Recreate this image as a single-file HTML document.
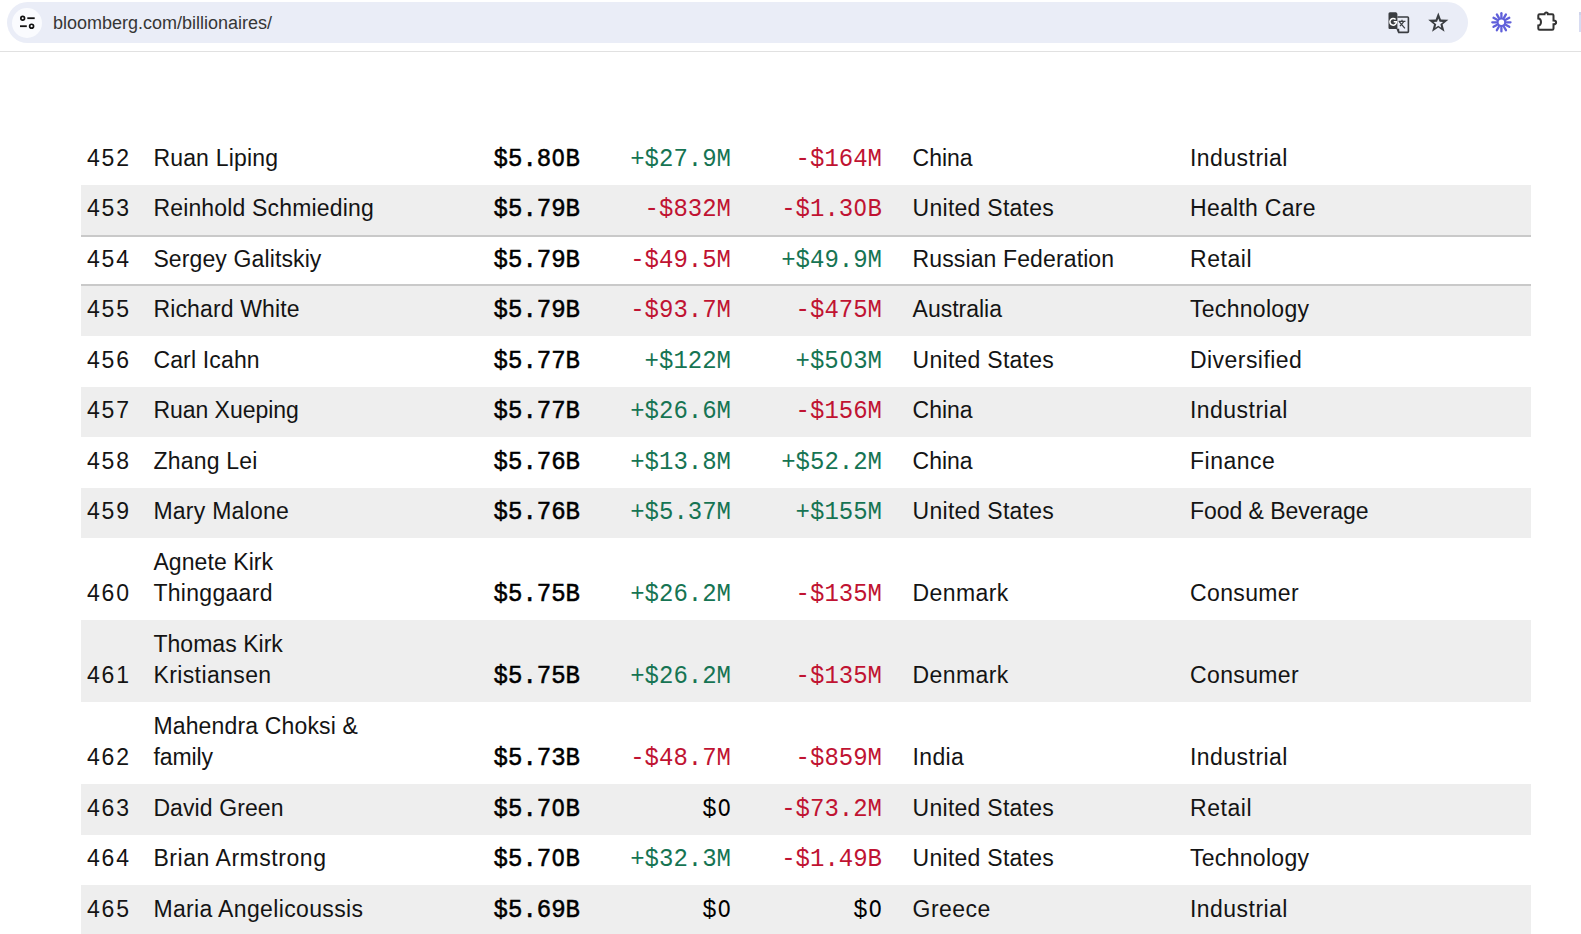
<!DOCTYPE html>
<html><head><meta charset="utf-8"><title>Billionaires</title>
<style>
*{margin:0;padding:0;box-sizing:border-box}
html,body{width:1581px;height:934px;overflow:hidden;background:#fff}
body{position:relative;font-family:"Liberation Sans",sans-serif;color:#000}
.pill{position:absolute;left:7px;top:1.5px;width:1461px;height:41px;border-radius:20.5px;background:#eaedf7}
.circ{position:absolute;left:12px;top:7.5px;width:30px;height:30px;border-radius:50%;background:#fafbfe}
.url{position:absolute;left:53px;top:11.5px;font-size:18px;line-height:22px;color:#363636;white-space:nowrap}
.sep{position:absolute;left:0;top:51px;width:1581px;height:1px;background:#e1e1e1}
.band{position:absolute;left:81px;width:1450px;background:#eeeeee}
.bline{position:absolute;left:81px;width:1450px;height:2px;background:#c9c9c9}
.t{position:absolute;font-size:23px;line-height:31px;white-space:nowrap;color:#141414;letter-spacing:0.2px}
.m{position:absolute;font-family:"Liberation Mono",monospace;font-size:24px;line-height:31px;white-space:nowrap;text-align:right;transform:scaleY(1.06);transform-origin:0 23px}
.rank{left:87px;letter-spacing:1.8px}
.name{left:153.4px}
.nw{-webkit-text-stroke:0.5px #000;right:calc(1581px - 580px)}
.last{right:calc(1581px - 731px)}
.ytd{right:calc(1581px - 882px)}
.country{left:912.6px}
.ind{left:1190px}
.z{display:inline-block;transform:scaleX(0.9)}
.g{color:#167453}
.r{color:#c01332}
.k{color:#000}
</style></head>
<body>
<div class="pill"></div>
<div class="circ"></div>
<div class="url">bloomberg.com/billionaires/</div>

<svg style="position:absolute;left:10px;top:6px" width="34" height="34" viewBox="10 6 34 34">
 <circle cx="22.7" cy="18.2" r="1.85" fill="none" stroke="#111" stroke-width="1.7"/>
 <line x1="27.3" y1="18.2" x2="34.7" y2="18.2" stroke="#111" stroke-width="1.8"/>
 <line x1="20" y1="26.2" x2="26.8" y2="26.2" stroke="#111" stroke-width="1.8"/>
 <circle cx="31.6" cy="26.2" r="1.95" fill="none" stroke="#111" stroke-width="1.7"/>
</svg>
<svg style="position:absolute;left:1380px;top:0px" width="40" height="45" viewBox="1380 0 40 45">
 <path d="M1389.6 12.2 h6.6 l1.2 1.6 v15.2 h-7.8 a1.1 1.1 0 0 1 -1.1 -1.1 v-14.2 a1.1 1.1 0 0 1 1.1 -1.1z" fill="#3a3d41"/>
 <path d="M1397.4 17.0 h10.2 a0.8 0.8 0 0 1 0.8 0.8 v13.8 a0.8 0.8 0 0 1 -0.8 0.8 h-9.5" fill="none" stroke="#3a3d41" stroke-width="1.6"/>
 <path d="M1396.4 28.8 h2.8 l0.2 3.8 h-1.6z" fill="#3a3d41"/>
 <path d="M1395.6 19.6 a3.3 3.3 0 1 0 0.9 2.2 h-2.8" fill="none" stroke="#fff" stroke-width="1.5"/>
 <path d="M1398.6 21.4 h6.8 M1402.0 19.8 v1.6 M1399.4 21.8 L1404.9 28.4 M1403.6 21.8 L1400.0 26.2" stroke="#3a3d41" stroke-width="1.2" fill="none"/>
</svg>
<svg style="position:absolute;left:1420px;top:4px" width="36" height="36" viewBox="1420 4 36 36" ><path fill="#3a3d41" fill-rule="evenodd" d="M1438.30,12.50 L1440.95,19.46 L1448.38,19.82 L1442.58,24.49 L1444.53,31.68 L1438.30,27.60 L1432.07,31.68 L1434.02,24.49 L1428.22,19.82 L1435.65,19.46Z M1438.30,18.60 L1439.59,21.82 L1443.06,22.05 L1440.39,24.28 L1441.24,27.65 L1438.30,25.80 L1435.36,27.65 L1436.21,24.28 L1433.54,22.05 L1437.01,21.82Z"/></svg>
<svg style="position:absolute;left:1488px;top:9px" width="27" height="27" viewBox="1488 9 27 27" ><g stroke="#6060da" stroke-width="2.3" stroke-linecap="round"><line x1="1506.80" y1="22.30" x2="1510.50" y2="22.30"/><line x1="1506.08" y1="25.00" x2="1509.28" y2="26.85"/><line x1="1504.10" y1="26.98" x2="1505.95" y2="30.18"/><line x1="1501.40" y1="27.70" x2="1501.40" y2="31.40"/><line x1="1498.70" y1="26.98" x2="1496.85" y2="30.18"/><line x1="1496.72" y1="25.00" x2="1493.52" y2="26.85"/><line x1="1496.00" y1="22.30" x2="1492.30" y2="22.30"/><line x1="1496.72" y1="19.60" x2="1493.52" y2="17.75"/><line x1="1498.70" y1="17.62" x2="1496.85" y2="14.42"/><line x1="1501.40" y1="16.90" x2="1501.40" y2="13.20"/><line x1="1504.10" y1="17.62" x2="1505.95" y2="14.42"/><line x1="1506.08" y1="19.60" x2="1509.28" y2="17.75"/></g><circle cx="1501.4" cy="22.3" r="3.9" fill="none" stroke="#6060da" stroke-width="2.3"/></svg>
<svg style="position:absolute;left:1532px;top:6px" width="30" height="30" viewBox="0 0 30 30">
 <path d="M7.6 8.3 H12.5 A1.7 1.7 0 0 1 15.9 8.3 H20.2 A1.3 1.3 0 0 1 21.5 9.6 V14.6 A2.6 1.8 0 0 1 21.5 18.2 V22.4 A1.3 1.3 0 0 1 20.2 23.7 H7.6 A1.3 1.3 0 0 1 6.3 22.4 V19.6 A2.7 3.6 0 0 0 6.3 12.4 V9.6 A1.3 1.3 0 0 1 7.6 8.3 Z" fill="none" stroke="#333" stroke-width="2"/>
</svg>
<div style="position:absolute;left:1579px;top:12px;width:2px;height:20px;background:linear-gradient(#cfd3ea 0 3px,#d8dcf2 3px)"></div>

<div class="sep"></div>
<div class="band" style="top:185px;height:50px"></div>
<div class="band" style="top:286px;height:50px"></div>
<div class="band" style="top:386.5px;height:50.5px"></div>
<div class="band" style="top:488px;height:50px"></div>
<div class="band" style="top:620px;height:82px"></div>
<div class="band" style="top:784px;height:51px"></div>
<div class="band" style="top:885px;height:49px"></div>
<div class="bline" style="top:235px"></div>
<div class="bline" style="top:284px"></div>
<div class="t rank" style="top:142.5px">452</div>
<div class="t name" style="top:142.5px"><span style="letter-spacing:0.18px">Ruan Liping</span></div>
<div class="m nw" style="top:143.5px">$5.8<span class="z">O</span>B</div>
<div class="m last g" style="top:143.5px">+$27.9M</div>
<div class="m ytd r" style="top:143.5px">-$164M</div>
<div class="t country" style="top:142.5px"><span style="letter-spacing:-0.05px">China</span></div>
<div class="t ind" style="top:142.5px"><span style="letter-spacing:0.46px">Industrial</span></div>
<div class="t rank" style="top:192.5px">453</div>
<div class="t name" style="top:192.5px"><span style="letter-spacing:0.17px">Reinhold Schmieding</span></div>
<div class="m nw" style="top:193.5px">$5.79B</div>
<div class="m last r" style="top:193.5px">-$832M</div>
<div class="m ytd r" style="top:193.5px">-$1.3<span class="z">O</span>B</div>
<div class="t country" style="top:192.5px"><span style="letter-spacing:0.26px">United States</span></div>
<div class="t ind" style="top:192.5px"><span style="letter-spacing:0.28px">Health Care</span></div>
<div class="t rank" style="top:243.5px">454</div>
<div class="t name" style="top:243.5px"><span style="letter-spacing:0.12px">Sergey Galitskiy</span></div>
<div class="m nw" style="top:244.5px">$5.79B</div>
<div class="m last r" style="top:244.5px">-$49.5M</div>
<div class="m ytd g" style="top:244.5px">+$49.9M</div>
<div class="t country" style="top:243.5px"><span style="letter-spacing:0.12px">Russian Federation</span></div>
<div class="t ind" style="top:243.5px"><span style="letter-spacing:0.55px">Retail</span></div>
<div class="t rank" style="top:293.5px">455</div>
<div class="t name" style="top:293.5px"><span style="letter-spacing:0.15px">Richard White</span></div>
<div class="m nw" style="top:294.5px">$5.79B</div>
<div class="m last r" style="top:294.5px">-$93.7M</div>
<div class="m ytd r" style="top:294.5px">-$475M</div>
<div class="t country" style="top:293.5px"><span style="letter-spacing:-0.02px">Australia</span></div>
<div class="t ind" style="top:293.5px"><span style="letter-spacing:0.29px">Technology</span></div>
<div class="t rank" style="top:344.5px">456</div>
<div class="t name" style="top:344.5px"><span style="letter-spacing:0.16px">Carl Icahn</span></div>
<div class="m nw" style="top:345.5px">$5.77B</div>
<div class="m last g" style="top:345.5px">+$122M</div>
<div class="m ytd g" style="top:345.5px">+$5<span class="z">O</span>3M</div>
<div class="t country" style="top:344.5px"><span style="letter-spacing:0.26px">United States</span></div>
<div class="t ind" style="top:344.5px"><span style="letter-spacing:0.45px">Diversified</span></div>
<div class="t rank" style="top:394.5px">457</div>
<div class="t name" style="top:394.5px"><span style="letter-spacing:-0.03px">Ruan Xueping</span></div>
<div class="m nw" style="top:395.5px">$5.77B</div>
<div class="m last g" style="top:395.5px">+$26.6M</div>
<div class="m ytd r" style="top:395.5px">-$156M</div>
<div class="t country" style="top:394.5px"><span style="letter-spacing:-0.05px">China</span></div>
<div class="t ind" style="top:394.5px"><span style="letter-spacing:0.46px">Industrial</span></div>
<div class="t rank" style="top:445.5px">458</div>
<div class="t name" style="top:445.5px"><span style="letter-spacing:0.22px">Zhang Lei</span></div>
<div class="m nw" style="top:446.5px">$5.76B</div>
<div class="m last g" style="top:446.5px">+$13.8M</div>
<div class="m ytd g" style="top:446.5px">+$52.2M</div>
<div class="t country" style="top:445.5px"><span style="letter-spacing:-0.05px">China</span></div>
<div class="t ind" style="top:445.5px"><span style="letter-spacing:0.5px">Finance</span></div>
<div class="t rank" style="top:495.5px">459</div>
<div class="t name" style="top:495.5px"><span style="letter-spacing:0.25px">Mary Malone</span></div>
<div class="m nw" style="top:496.5px">$5.76B</div>
<div class="m last g" style="top:496.5px">+$5.37M</div>
<div class="m ytd g" style="top:496.5px">+$155M</div>
<div class="t country" style="top:495.5px"><span style="letter-spacing:0.26px">United States</span></div>
<div class="t ind" style="top:495.5px"><span style="letter-spacing:-0.04px">Food &amp; Beverage</span></div>
<div class="t rank" style="top:577.5px">460</div>
<div class="t name" style="top:546.5px"><span style="letter-spacing:0.08px">Agnete Kirk</span><br><span style="letter-spacing:0.3px">Thinggaard</span></div>
<div class="m nw" style="top:578.5px">$5.75B</div>
<div class="m last g" style="top:578.5px">+$26.2M</div>
<div class="m ytd r" style="top:578.5px">-$135M</div>
<div class="t country" style="top:577.5px"><span style="letter-spacing:0.4px">Denmark</span></div>
<div class="t ind" style="top:577.5px"><span style="letter-spacing:0.37px">Consumer</span></div>
<div class="t rank" style="top:659.5px">461</div>
<div class="t name" style="top:628.5px"><span style="letter-spacing:0.04px">Thomas Kirk</span><br><span style="letter-spacing:0.4px">Kristiansen</span></div>
<div class="m nw" style="top:660.5px">$5.75B</div>
<div class="m last g" style="top:660.5px">+$26.2M</div>
<div class="m ytd r" style="top:660.5px">-$135M</div>
<div class="t country" style="top:659.5px"><span style="letter-spacing:0.4px">Denmark</span></div>
<div class="t ind" style="top:659.5px"><span style="letter-spacing:0.37px">Consumer</span></div>
<div class="t rank" style="top:741.5px">462</div>
<div class="t name" style="top:710.5px"><span style="letter-spacing:0.16px">Mahendra Choksi &amp;</span><br><span style="letter-spacing:-0.08px">family</span></div>
<div class="m nw" style="top:742.5px">$5.73B</div>
<div class="m last r" style="top:742.5px">-$48.7M</div>
<div class="m ytd r" style="top:742.5px">-$859M</div>
<div class="t country" style="top:741.5px"><span style="letter-spacing:0.33px">India</span></div>
<div class="t ind" style="top:741.5px"><span style="letter-spacing:0.46px">Industrial</span></div>
<div class="t rank" style="top:792.5px">463</div>
<div class="t name" style="top:792.5px"><span style="letter-spacing:0.1px">David Green</span></div>
<div class="m nw" style="top:793.5px">$5.7<span class="z">O</span>B</div>
<div class="m last k" style="top:793.5px">$<span class="z">O</span></div>
<div class="m ytd r" style="top:793.5px">-$73.2M</div>
<div class="t country" style="top:792.5px"><span style="letter-spacing:0.26px">United States</span></div>
<div class="t ind" style="top:792.5px"><span style="letter-spacing:0.55px">Retail</span></div>
<div class="t rank" style="top:842.5px">464</div>
<div class="t name" style="top:842.5px"><span style="letter-spacing:0.55px">Brian Armstrong</span></div>
<div class="m nw" style="top:843.5px">$5.7<span class="z">O</span>B</div>
<div class="m last g" style="top:843.5px">+$32.3M</div>
<div class="m ytd r" style="top:843.5px">-$1.49B</div>
<div class="t country" style="top:842.5px"><span style="letter-spacing:0.26px">United States</span></div>
<div class="t ind" style="top:842.5px"><span style="letter-spacing:0.29px">Technology</span></div>
<div class="t rank" style="top:893.5px">465</div>
<div class="t name" style="top:893.5px"><span style="letter-spacing:0.35px">Maria Angelicoussis</span></div>
<div class="m nw" style="top:894.5px">$5.69B</div>
<div class="m last k" style="top:894.5px">$<span class="z">O</span></div>
<div class="m ytd k" style="top:894.5px">$<span class="z">O</span></div>
<div class="t country" style="top:893.5px"><span style="letter-spacing:0.45px">Greece</span></div>
<div class="t ind" style="top:893.5px"><span style="letter-spacing:0.46px">Industrial</span></div>
</body></html>
